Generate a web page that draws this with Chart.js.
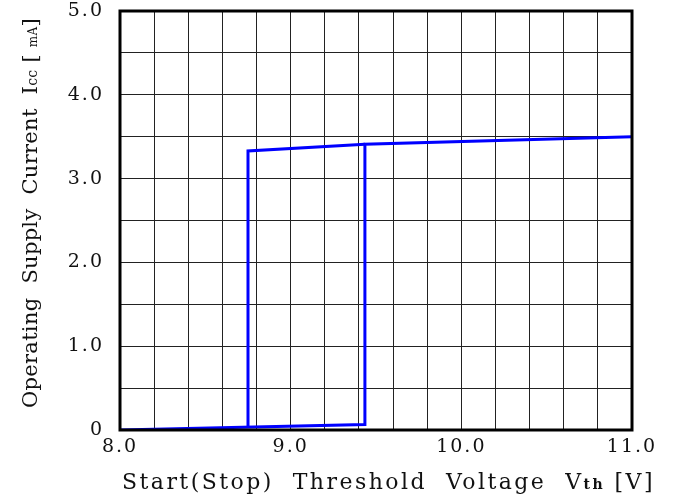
<!DOCTYPE html>
<html>
<head>
<meta charset="utf-8">
<script src="https://cdn.jsdelivr.net/npm/chart.js"></script>
<style>
  html, body { margin: 0; padding: 0; background: #fff; }
  #wrap { width: 673px; height: 501px; }
</style>
</head>
<body>
<div id="wrap"><canvas id="chart"></canvas></div>
<script>
  // Rising branch (start) and falling branch (stop) of the Icc hysteresis
  const riseV = [8.0, 9.435, 9.435, 11.0];
  const riseI = [0, 0.065, 3.41, 3.5];
  const stopV = [8.75, 8.75, 9.435];
  const stopI = [0.035, 3.33, 3.41];

  const xMin = 8.0, xMax = 11.0, xStep = 0.2;
  const yMin = 0, yMax = 5.0, yStep = 0.5;
  const xTickLabels = ['8.0', '9.0', '10.0', '11.0'];
  const yTickLabels = ['0', '1.0', '2.0', '3.0', '4.0', '5.0'];

  const FONT = '"DejaVu Serif", serif';

  function toPoints(xs, ys) {
    return xs.map((x, i) => ({ x: x, y: ys[i] }));
  }

  // Draw text made of pieces with different sizes, stretched to a target width
  function drawPieces(ctx, pieces, width) {
    ctx.letterSpacing = '0px';
    let natural = 0, count = 0;
    pieces.forEach(p => {
      ctx.font = (p.bold ? 'bold ' : '') + p.size + 'px ' + FONT;
      natural += ctx.measureText(p.text).width;
      count += p.text.length;
    });
    const gap = (width - natural) / count;
    ctx.letterSpacing = gap + 'px';
    let x = 0;
    pieces.forEach(p => {
      ctx.font = (p.bold ? 'bold ' : '') + p.size + 'px ' + FONT;
      ctx.fillText(p.text, x, 0);
      x += ctx.measureText(p.text).width;
    });
  }

  const framePlugin = {
    id: 'frame',
    beforeDraw(chart) {
      chart.ctx.letterSpacing = '2px';
    },
    afterDraw(chart) {
      const { ctx, chartArea: a } = chart;
      ctx.save();
      ctx.strokeStyle = '#000';
      ctx.lineWidth = 3;
      ctx.strokeRect(a.left, a.top, a.right - a.left, a.bottom - a.top);

      ctx.fillStyle = '#111';
      ctx.textBaseline = 'alphabetic';
      ctx.textAlign = 'left';

      // x axis title
      ctx.save();
      ctx.translate(122, 489);
      drawPieces(ctx, [
        { text: 'Start(Stop)  Threshold  Voltage  V', size: 22 },
        { text: 'th', size: 14, bold: true },
        { text: ' [V]', size: 22 }
      ], 533);
      ctx.restore();

      // y axis title
      ctx.save();
      ctx.translate(37, 408);
      ctx.rotate(-Math.PI / 2);
      drawPieces(ctx, [
        { text: 'Operating  Supply  Current  I', size: 21 },
        { text: 'cc', size: 14 },
        { text: ' [ ', size: 21 },
        { text: 'mA', size: 12 },
        { text: ']', size: 21 }
      ], 390);
      ctx.restore();

      ctx.restore();
    }
  };

  function isWhole(v) {
    return Math.abs(v - Math.round(v)) < 1e-6;
  }

  new Chart(document.getElementById('chart'), {
    type: 'scatter',
    data: {
      datasets: [
        {
          label: 'start',
          data: toPoints(riseV, riseI),
          showLine: true,
          borderColor: '#0000ff',
          borderWidth: 3,
          pointRadius: 0,
          tension: 0
        },
        {
          label: 'stop',
          data: toPoints(stopV, stopI),
          showLine: true,
          borderColor: '#0000ff',
          borderWidth: 3,
          pointRadius: 0,
          tension: 0
        }
      ]
    },
    options: {
      responsive: true,
      maintainAspectRatio: false,
      animation: false,
      layout: { padding: { top: 11, right: 41, left: 0, bottom: 0 } },
      plugins: {
        legend: { display: false },
        tooltip: { enabled: false }
      },
      scales: {
        x: {
          type: 'linear',
          min: xMin,
          max: xMax,
          afterFit(scale) {
            scale.height = 71;
            scale.paddingLeft = 0;
            scale.paddingRight = 0;
          },
          grid: { color: '#222', lineWidth: 1, drawTicks: false },
          border: { display: false },
          ticks: {
            stepSize: xStep,
            autoSkip: false,
            maxRotation: 0,
            padding: 6,
            color: '#111',
            font: { family: FONT, size: 19 },
            callback(v) {
              if (!isWhole(v)) return '';
              const lbl = v.toFixed(1);
              return xTickLabels.includes(lbl) ? lbl : '';
            }
          }
        },
        y: {
          type: 'linear',
          min: yMin,
          max: yMax,
          afterFit(scale) {
            scale.width = 120;
            scale.paddingTop = 0;
            scale.paddingBottom = 0;
          },
          grid: { color: '#222', lineWidth: 1, drawTicks: false },
          border: { display: false },
          ticks: {
            stepSize: yStep,
            autoSkip: false,
            padding: 16,
            color: '#111',
            font: { family: FONT, size: 19 },
            callback(v) {
              if (!isWhole(v)) return '';
              return yTickLabels[Math.round(v)];
            }
          }
        }
      }
    },
    plugins: [framePlugin]
  });
</script>
</body>
</html>
